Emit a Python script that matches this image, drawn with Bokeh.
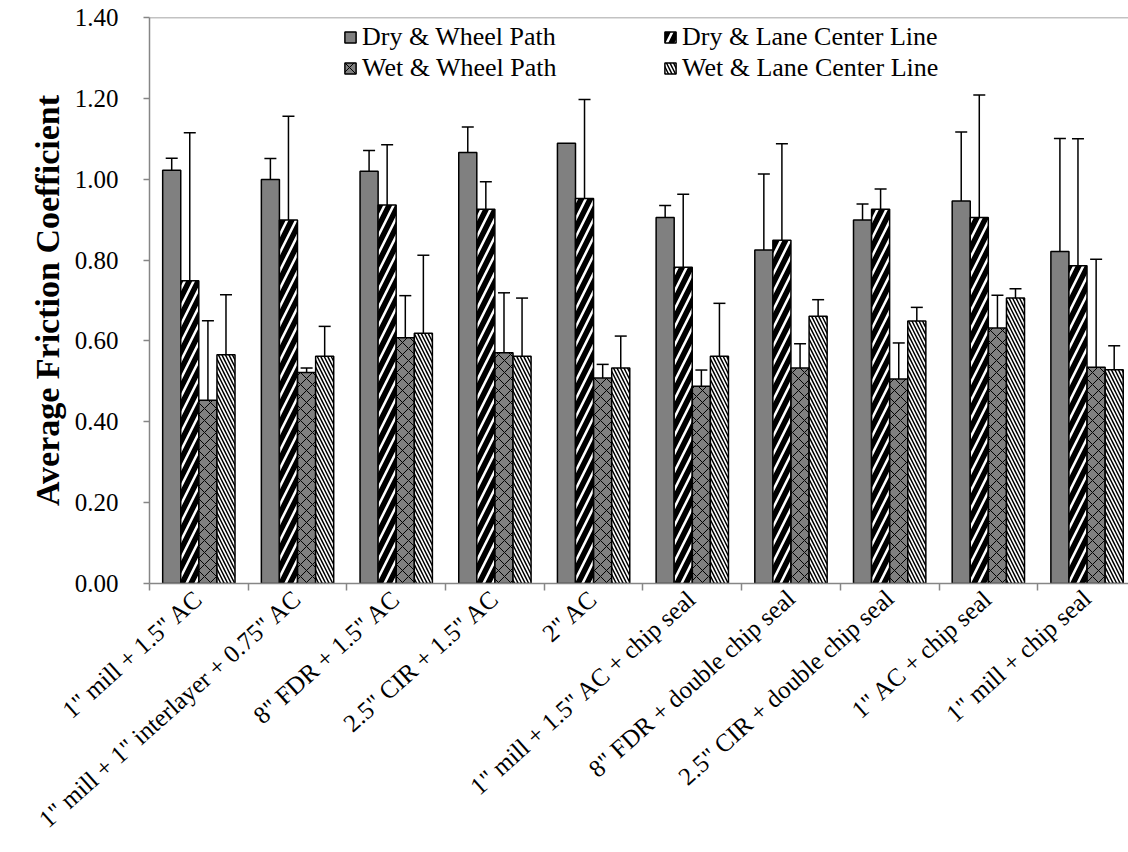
import math
from bokeh.plotting import figure
from bokeh.models import (Range1d, FixedTicker, PrintfTickFormatter, ColumnDataSource,
                          Whisker, TeeHead, Legend, LegendItem, Span)
from bokeh.embed import file_html
from bokeh.resources import INLINE

categories = [
    '1" mill + 1.5" AC',
    '1" mill + 1" interlayer + 0.75" AC',
    '8" FDR + 1.5" AC',
    '2.5" CIR + 1.5" AC',
    '2" AC',
    '1" mill + 1.5" AC + chip seal',
    '8" FDR + double chip seal',
    '2.5" CIR + double chip seal',
    '1" AC + chip seal',
    '1" mill + chip seal',
]
series_names = ["Dry & Wheel Path", "Dry & Lane Center Line",
                "Wet & Wheel Path", "Wet & Lane Center Line"]

dry_wheel = [1.022, 0.999, 1.020, 1.066, 1.089, 0.905, 0.825, 0.899, 0.946, 0.821]
dry_lane = [0.749, 0.899, 0.936, 0.926, 0.952, 0.782, 0.849, 0.926, 0.905, 0.786]
wet_wheel = [0.453, 0.522, 0.608, 0.571, 0.508, 0.488, 0.533, 0.506, 0.632, 0.535]
wet_lane = [0.566, 0.562, 0.619, 0.562, 0.533, 0.562, 0.661, 0.649, 0.706, 0.529]

dry_wheel_err = [0.030, 0.052, 0.051, 0.063, 0.0, 0.030, 0.188, 0.040, 0.171, 0.280]
dry_lane_err = [0.366, 0.257, 0.149, 0.068, 0.245, 0.181, 0.239, 0.050, 0.303, 0.314]
wet_wheel_err = [0.197, 0.011, 0.104, 0.148, 0.034, 0.040, 0.060, 0.089, 0.081, 0.267]
wet_lane_err = [0.148, 0.074, 0.193, 0.144, 0.079, 0.131, 0.041, 0.034, 0.023, 0.059]

y_ticks = [0.0, 0.2, 0.4, 0.6, 0.8, 1.0, 1.2, 1.4]

FONT = "Liberation Serif"
AXIS_GRAY = "#868686"
BAR_GRAY = "#808080"

p = figure(width=1128, height=852, x_range=Range1d(0, 9.92), y_range=Range1d(0, 1.4),
           output_backend="svg", toolbar_location=None,
           min_border_left=149, min_border_right=0, min_border_top=17, min_border_bottom=269)
p.background_fill_color = "white"
p.border_fill_color = "white"
p.outline_line_color = None
p.xgrid.visible = False
p.ygrid.visible = False

bar_w = 0.183
offsets = [-0.275, -0.092, 0.092, 0.275]
values = [dry_wheel, dry_lane, wet_wheel, wet_lane]
errors = [dry_wheel_err, dry_lane_err, wet_wheel_err, wet_lane_err]
styles = [
    dict(fill_color=BAR_GRAY, hatch_pattern=None),
    dict(fill_color="white", hatch_pattern="/", hatch_color="black", hatch_weight=5.5, hatch_scale=18),
    dict(fill_color=BAR_GRAY, hatch_pattern="x", hatch_color="black", hatch_weight=1, hatch_scale=12),
    dict(fill_color="white", hatch_pattern="\\", hatch_color="black", hatch_weight=1.5, hatch_scale=7),
]

renderers = []
for k in range(4):
    xs = [i + 0.5 + offsets[k] for i in range(len(categories))]
    src = ColumnDataSource(dict(x=xs, top=values[k]))
    st = {kk: vv for kk, vv in styles[k].items() if vv is not None}
    r = p.vbar(x="x", top="top", bottom=0, width=bar_w, source=src,
               line_color="black", line_width=1.5, **st)
    renderers.append(r)

for k in range(4):
    bx, up, lo = [], [], []
    for i in range(len(categories)):
        e = errors[k][i]
        if e > 0:
            bx.append(i + 0.5 + offsets[k])
            up.append(values[k][i] + e)
            lo.append(values[k][i] - e)
    esrc = ColumnDataSource(dict(base=bx, upper=up, lower=lo))
    w = Whisker(base="base", upper="upper", lower="lower", source=esrc,
                line_color="black", line_width=1.5,
                upper_head=TeeHead(size=12, line_color="black", line_width=1.5),
                lower_head=TeeHead(size=12, line_color="black", line_width=1.5))
    p.add_layout(w)

p.add_layout(Span(location=1.4, dimension="width", line_color=AXIS_GRAY, line_width=1.5))

# x axis
centers = [i + 0.5 for i in range(len(categories))]
bounds = [float(i) for i in range(len(categories) + 1)]
xa = p.xaxis[0]
xa.ticker = FixedTicker(ticks=centers, minor_ticks=bounds)
xa.major_label_overrides = {c: lab for c, lab in zip(centers, categories)}
xa.major_label_orientation = 0.73
xa.major_tick_in = 0
xa.major_tick_out = 0
xa.minor_tick_in = 0
xa.minor_tick_out = 7
xa.minor_tick_line_color = AXIS_GRAY
xa.minor_tick_line_width = 1.5
xa.axis_line_color = AXIS_GRAY
xa.axis_line_width = 1.5
xa.major_label_text_font = FONT
xa.major_label_text_font_size = "25px"
xa.major_label_text_color = "black"
xa.major_label_standoff = 4

ya = p.yaxis[0]
ya.ticker = FixedTicker(ticks=y_ticks)
ya.formatter = PrintfTickFormatter(format="%.2f")
ya.major_tick_in = 0
ya.major_tick_out = 6
ya.major_tick_line_color = AXIS_GRAY
ya.major_tick_line_width = 1.5
ya.minor_tick_line_color = None
ya.axis_line_color = AXIS_GRAY
ya.axis_line_width = 1.5
ya.major_label_text_font = FONT
ya.major_label_text_font_size = "25px"
ya.major_label_text_color = "black"
ya.major_label_standoff = 25
ya.axis_label = "Average Friction Coefficient"
ya.axis_label_text_font = FONT
ya.axis_label_text_font_style = "bold"
ya.axis_label_text_font_size = "34px"
ya.axis_label_text_color = "black"
ya.axis_label_standoff = 6

legend = Legend(
    items=[LegendItem(label=series_names[0], renderers=[renderers[0]]),
           LegendItem(label=series_names[2], renderers=[renderers[2]]),
           LegendItem(label=series_names[1], renderers=[renderers[1]]),
           LegendItem(label=series_names[3], renderers=[renderers[3]])],
    ncols=2, orientation="vertical", location=(194, 500),
    glyph_width=14, glyph_height=14, label_width=300, label_height=24,
    label_standoff=5, spacing=1, padding=0, margin=0,
    label_text_font=FONT, label_text_font_size="26px", label_text_color="black",
    border_line_color=None, background_fill_alpha=0,
)
p.add_layout(legend)

open("out.html", "w").write(file_html(p, INLINE))
